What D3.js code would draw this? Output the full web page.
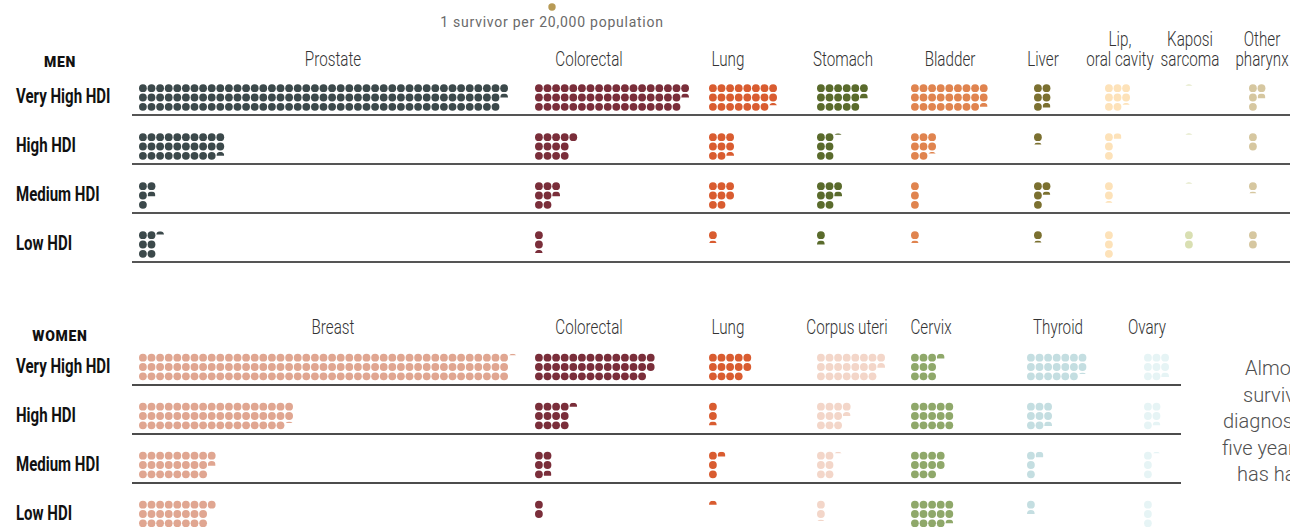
<!DOCTYPE html>
<html>
<head>
<meta charset="utf-8">
<script src="https://cdn.jsdelivr.net/npm/d3@7/dist/d3.min.js"></script>
<style>
body { margin: 0; background: #fff; }
svg { display: block; }
</style>
</head>
<body>
<div id="chart"></div>
<script>
// rows
var hdiLevels = ["Very High HDI", "High HDI", "Medium HDI", "Low HDI"];

// men: survivors per 20,000 population (Very High, High, Medium, Low)
var menHeaders = [["Prostate"], ["Colorectal"], ["Lung"], ["Stomach"], ["Bladder"], ["Liver"],
                  ["Lip,", "oral cavity"], ["Kaposi", "sarcoma"], ["Other", "pharynx"]];
var menProstate   = [127.5, 29.5, 4.6, 6.4];
var menColorectal = [52.5, 13, 7.6, 2.4];
var menLung       = [23.3, 8.5, 8, 1.3];
var menStomach    = [16.6, 6.2, 7.6, 1.5];
var menBladder    = [26.5, 8.2, 3, 1.3];
var menLiver      = [5.6, 1.25, 4.4, 1.25];
var menLip        = [8.25, 3.7, 2.25, 3];
var menKaposi     = [0.15, 0.15, 0.15, 2];
var menPharynx    = [4.6, 2, 1.2, 2];
var menColors = ["#3c494b", "#7a2e3a", "#d95c30", "#5a6b2c", "#e0844f", "#7b7030", "#fde2b9", "#d9dfb2", "#d6c7a0"];

// women
var womenHeaders = [["Breast"], ["Colorectal"], ["Lung"], ["Corpus uteri"], ["Cervix"], ["Thyroid"], ["Ovary"]];
var womenBreast     = [129.2, 53.2, 25.6, 25];
var womenColorectal = [41, 12.5, 5.7, 2];
var womenLung       = [14, 2.5, 3.6, 0.5];
var womenCorpus     = [22.6, 10.5, 6.2, 2.2];
var womenCervix     = [9.6, 15, 11, 14.5];
var womenThyroid    = [20.2, 8.6, 3.7, 1.5];
var womenOvary      = [8.6, 5.5, 3.2, 3];
var womenColors = ["#e0a691", "#7a2e3a", "#d95c30", "#f3d6c9", "#8fa86a", "#c4dee1", "#e6f4f5"];

var noteLines = ["Almost", "survivors", "diagnosed", "five years", "has had"];

// layout (px)
var W = 1290, H = 527;
var menColX = [139, 535, 709, 817, 911, 1034, 1105, 1185, 1249];
var menHeadX = [333, 589, 728, 843, 950, 1043, 1120, 1190, 1262];
var womenColX = [139, 535, 709, 817, 911, 1027, 1144];
var womenHeadX = [333, 589, 728, 847, 931, 1058, 1147];
var noteX = [1245, 1243, 1223, 1222, 1237];

var r = 3.9, stepX = 8.6, stepY = 9.3;
var condensed = 0.78;

var svg = d3.select("#chart").append("svg")
    .attr("width", W)
    .attr("height", H);

var defs = svg.append("defs");
var clipId = 0;

var colX = d3.scaleLinear().domain([0, 1]).range([r, r + stepX]);
var rowY = d3.scaleLinear().domain([0, 2]).range([-stepY, stepY]);

function drawPanel(p) {
  var g = svg.append("g");
  var ruleY = d3.scalePoint().domain(hdiLevels).range(p.ruleRange);
  var cx = d3.scaleOrdinal().domain(d3.range(p.series.length)).range(p.colX);

  // title
  g.append("text")
      .attr("x", 60).attr("y", p.titleY)
      .attr("text-anchor", "middle")
      .attr("dominant-baseline", "middle")
      .style("font-family", "Roboto, 'DejaVu Sans', sans-serif")
      .style("font-weight", 900)
      .style("font-size", "14px")
      .style("letter-spacing", "0.7px")
      .attr("fill", "#111")
      .text(p.title);

  // column headers
  p.headers.forEach(function(lines, j) {
    lines.forEach(function(t, k) {
      g.append("text")
          .attr("transform", "translate(" + p.headX[j] + "," + (p.headY - (lines.length - 1 - k) * 20) + ") scale(" + condensed + ",1)")
          .attr("text-anchor", "middle")
          .attr("dominant-baseline", "middle")
          .style("font-family", "Roboto, sans-serif")
          .style("font-weight", 300)
          .style("font-size", "19.5px")
          .attr("fill", "#333")
          .text(t);
    });
  });

  // rules
  g.selectAll("line.rule")
      .data(hdiLevels)
      .enter().append("line")
      .attr("class", "rule")
      .attr("x1", 132).attr("x2", p.ruleEnd)
      .attr("y1", function(d) { return ruleY(d); })
      .attr("y2", function(d) { return ruleY(d); })
      .attr("stroke", p.ruleColor)
      .attr("stroke-width", p.ruleWidth);

  // row labels
  g.selectAll("text.row")
      .data(hdiLevels)
      .enter().append("text")
      .attr("class", "row")
      .attr("transform", function(d) { return "translate(16," + (ruleY(d) - 17) + ") scale(0.77,1)"; })
      .attr("dominant-baseline", "middle")
      .style("font-family", "Roboto, sans-serif")
      .style("font-weight", 700)
      .style("font-size", "19.5px")
      .attr("fill", "#111")
      .text(function(d) { return d; });

  // dots, filled column by column, top to bottom; the last one is cut to its fraction
  p.series.forEach(function(vals, j) {
    vals.forEach(function(v, i) {
      var mid = ruleY(hdiLevels[i]) - p.midOffset;
      var full = Math.floor(v + 1e-9), frac = v - full;
      var dots = d3.range(full).map(function(k) { return {k: k, f: 1}; });
      if (frac > 0.01) dots.push({k: full, f: frac});
      dots.forEach(function(d) {
        var x = cx(j) + colX(Math.floor(d.k / 3));
        var y = mid + rowY(d.k % 3);
        var c = g.append("circle")
            .attr("cx", x).attr("cy", y).attr("r", r)
            .attr("fill", p.colors[j]);
        if (d.f < 1) {
          var id = "clip" + (clipId++);
          defs.append("clipPath").attr("id", id)
            .append("rect")
            .attr("x", x - r).attr("y", y - r)
            .attr("width", 2 * r).attr("height", 2 * r * d.f);
          c.attr("clip-path", "url(#" + id + ")");
        }
      });
    });
  });
}

drawPanel({
  title: "MEN", titleY: 63,
  headers: menHeaders, headX: menHeadX, headY: 61,
  series: [menProstate, menColorectal, menLung, menStomach, menBladder, menLiver, menLip, menKaposi, menPharynx],
  colors: menColors, colX: menColX, midOffset: 17.5,
  ruleRange: [115, 262], ruleEnd: 1290, ruleColor: "#555", ruleWidth: 2
});

drawPanel({
  title: "WOMEN", titleY: 337,
  headers: womenHeaders, headX: womenHeadX, headY: 329,
  series: [womenBreast, womenColorectal, womenLung, womenCorpus, womenCervix, womenThyroid, womenOvary],
  colors: womenColors, colX: womenColX, midOffset: 18,
  ruleRange: [385, 532], ruleEnd: 1181, ruleColor: "#111", ruleWidth: 1.6
});

// legend
svg.append("circle")
    .attr("cx", 552).attr("cy", 7).attr("r", 3.7)
    .attr("fill", "#b79a55");
svg.append("text")
    .attr("x", 552).attr("y", 23)
    .attr("text-anchor", "middle")
    .attr("dominant-baseline", "middle")
    .style("font-family", "Roboto, sans-serif")
    .style("font-size", "14px")
    .style("letter-spacing", "0.75px")
    .attr("fill", "#6a6a6a")
    .text("1 survivor per 20,000 population");

// side note (cut by the frame, as in the original)
svg.selectAll("text.note")
    .data(noteLines)
    .enter().append("text")
    .attr("class", "note")
    .attr("transform", function(d, i) { return "translate(" + noteX[i] + "," + (370 + i * 26.5) + ")"; })
    .attr("dominant-baseline", "middle")
    .style("font-family", "Roboto, sans-serif")
    .style("font-weight", 300)
    .style("font-size", "20px")
    .attr("fill", "#505050")
    .text(function(d) { return d; });
</script>
</body>
</html>
